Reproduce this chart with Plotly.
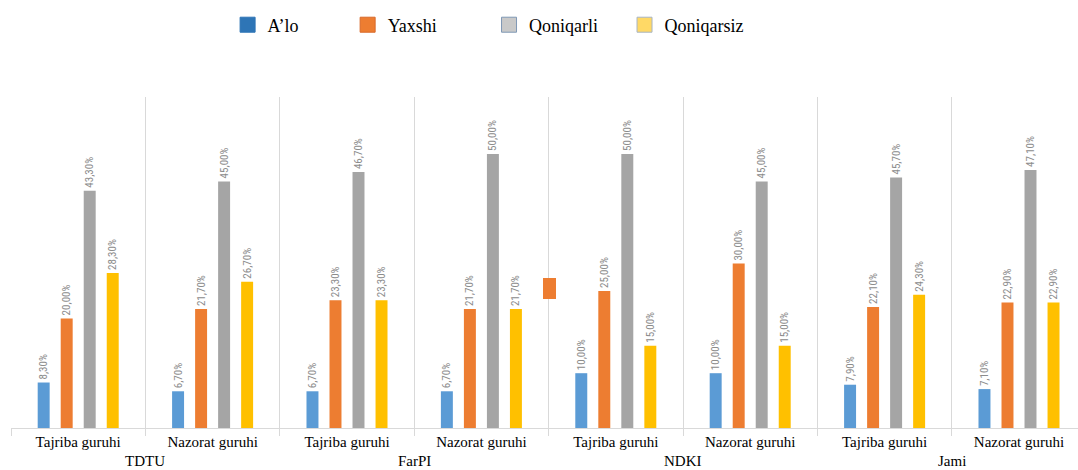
import plotly.graph_objects as go

# Survey results by institution and group (percent of students)
institutions = ["TDTU", "FarPI", "NDKI", "Jami"]
groups = ["Tajriba guruhi", "Nazorat guruhi"]
categories = ["A’lo", "Yaxshi", "Qoniqarli", "Qoniqarsiz"]

alo = [8.3, 6.7, 6.7, 6.7, 10.0, 10.0, 7.9, 7.1]
yaxshi = [20.0, 21.7, 23.3, 21.7, 25.0, 30.0, 22.1, 22.9]
qoniqarli = [43.3, 45.0, 46.7, 50.0, 50.0, 45.0, 45.7, 47.1]
qoniqarsiz = [28.3, 26.7, 23.3, 21.7, 15.0, 15.0, 24.3, 22.9]

series = [alo, yaxshi, qoniqarli, qoniqarsiz]
bar_colors = ["#5B9BD5", "#ED7D31", "#A5A5A5", "#FFC000"]
legend_colors = ["#2E75B6", "#ED7D31", "#C9C9C9", "#FFD966"]
legend_borders = ["#2E75B6", "#D8692A", "#7F98B5", "#A8B4C4"]
# left edge of each legend entry, as a fraction of the plot width
legend_x = [0.203, 0.3155, 0.448, 0.575]

tick_labels = [g for _ in institutions for g in groups]
x_pos = list(range(len(tick_labels)))

label_font = dict(family="Liberation Sans Narrow, Roboto Condensed, DejaVu Sans Condensed, Arial",
                  size=11, color="#8C8C8C")
serif = "Times New Roman, Liberation Serif, DejaVu Serif, serif"


def pct(v):
    return f"{v:.2f}%".replace(".", ",")


fig = go.Figure()

for name, vals, col in zip(categories, series, bar_colors):
    fig.add_trace(go.Bar(
        x=x_pos, y=vals, name=name, marker_color=col, marker_line_width=0,
        text=[pct(v) for v in vals], textposition="outside", textangle=-90,
        textfont=label_font, cliponaxis=False, constraintext="none",
        showlegend=False, hoverinfo="skip",
    ))

# legend keys, one legend box per entry
legend_ids = ["legend", "legend2", "legend3", "legend4"]
for name, col, bc, lid in zip(categories, legend_colors, legend_borders, legend_ids):
    fig.add_trace(go.Scatter(
        x=[None], y=[None], mode="markers", name=name, legend=lid,
        marker=dict(symbol="square", size=15, color=col, line=dict(color=bc, width=1)),
    ))

legend_style = dict(
    orientation="h", y=1.2175, xanchor="left", yanchor="middle",
    font=dict(family=serif, size=18, color="#000000"),
    itemwidth=30, bgcolor="rgba(0,0,0,0)",
)
legend_layout = {lid: dict(legend_style, x=lx) for lid, lx in zip(legend_ids, legend_x)}

# institution labels under each pair of groups
for i, inst in enumerate(institutions):
    fig.add_annotation(
        x=2 * i + 0.5, y=0, xref="x", yref="paper", yanchor="bottom",
        yshift=-42, text=inst, showarrow=False, borderpad=0,
        font=dict(family=serif, size=15, color="#000000"),
    )

# stray key fragment in the middle of the chart
fig.add_shape(type="rect", xref="paper", yref="paper",
              x0=(543 - 11) / 1067, x1=(556 - 11) / 1067,
              y0=(428 - 299) / 331, y1=(428 - 278) / 331,
              fillcolor="#ED7D31", line=dict(width=0))

fig.update_layout(
    width=1078, height=470,
    margin=dict(l=11, r=0, t=97, b=42),
    paper_bgcolor="white", plot_bgcolor="white",
    barmode="group", bargap=0.315, bargroupgap=0.48,
    xaxis=dict(
        range=[-0.5, -0.5 + 1067 / 134.4],
        tickmode="array", tickvals=x_pos, ticktext=tick_labels,
        tickfont=dict(family=serif, size=15, color="#000000"),
        showgrid=False, zeroline=False, ticks="",
        showline=True, linecolor="#D9D9D9", linewidth=1,
        minor=dict(tick0=-0.5, dtick=1, showgrid=True, gridcolor="#D9D9D9",
                   gridwidth=1, ticks="outside", ticklen=7, tickcolor="#D9D9D9"),
    ),
    yaxis=dict(range=[0, 60.4], visible=False, showgrid=False, zeroline=False),
    **legend_layout,
)

fig.write_html("out.html")
